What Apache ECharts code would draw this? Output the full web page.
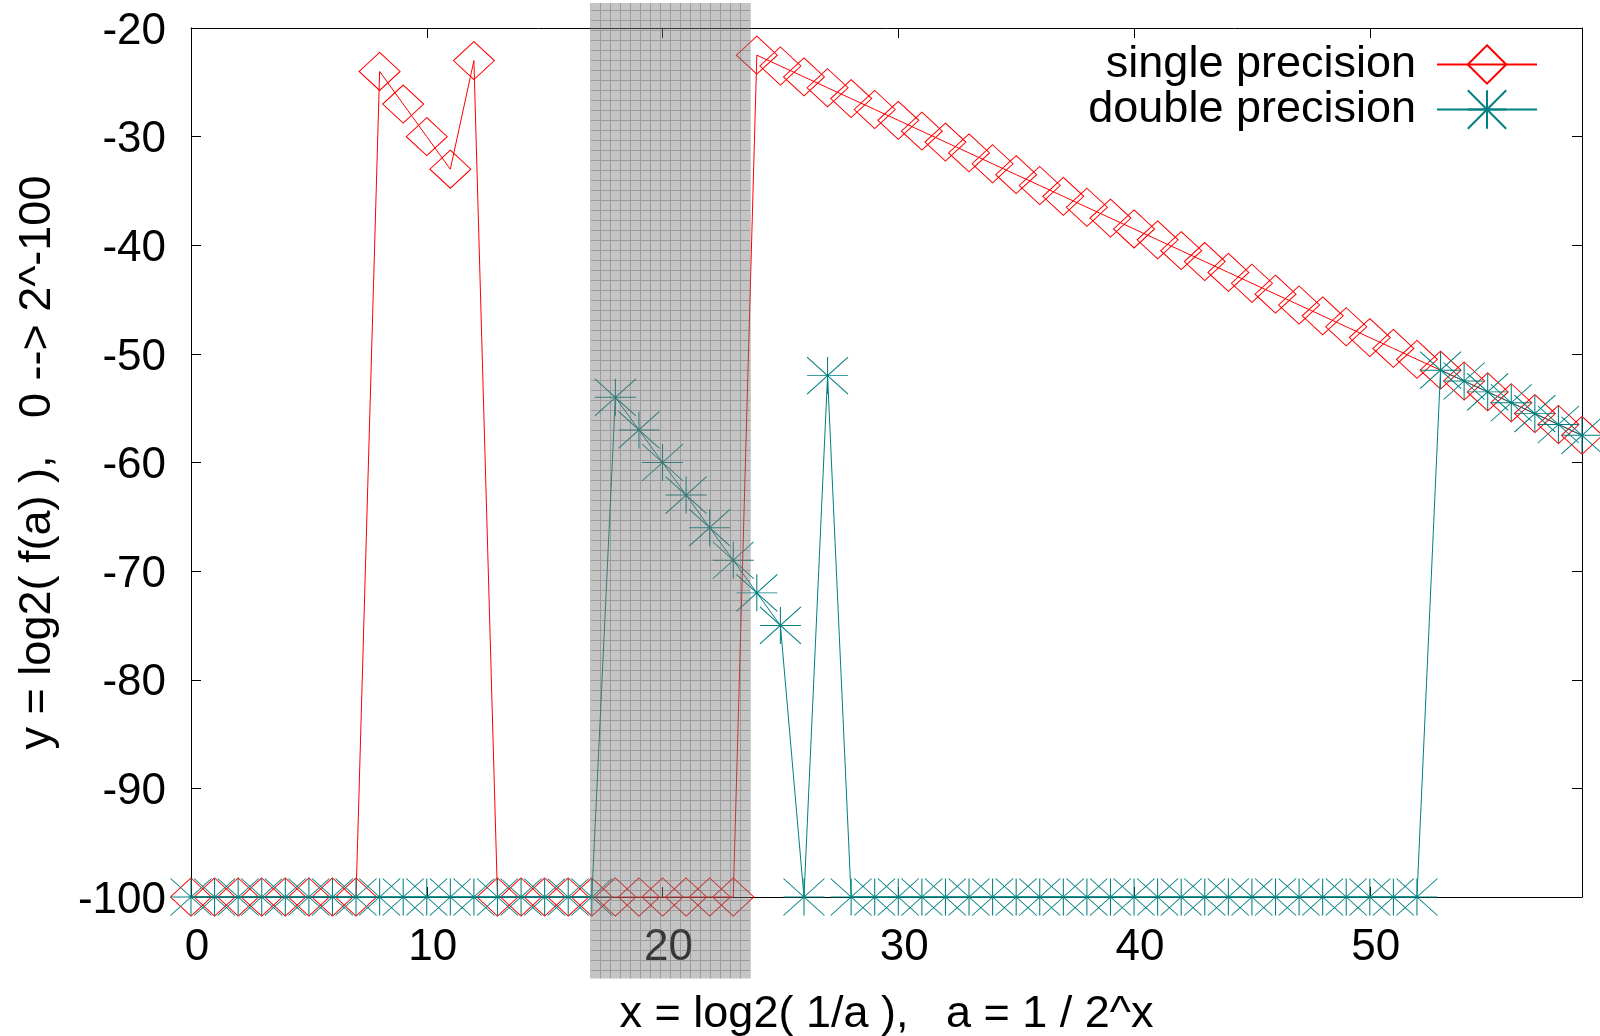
<!DOCTYPE html>
<html><head><meta charset="utf-8">
<script src="https://cdn.jsdelivr.net/npm/echarts@6/dist/echarts.min.js"></script>
<style>html,body{margin:0;padding:0;background:#fff}#c{width:1600px;height:1036px}</style>
</head><body><div id="c"></div>
<script>
const xValues = [0,1,2,3,4,5,6,7,8,9,10,11,12,13,14,15,16,17,18,19,20,21,22,23,24,25,26,27,28,29,30,31,32,33,34,35,36,37,38,39,40,41,42,43,44,45,46,47,48,49,50,51,52,53,54,55,56,57,58,59];
const singleValues = [-100,-100,-100,-100,-100,-100,-100,-100,
  -24,-27,-30,-33,-23,
  -100,-100,-100,-100,-100,-100,-100,-100,-100,-100,-100,
  -22.5,-23.5,-24.5,-25.5,-26.5,-27.5,-28.5,-29.5,-30.5,-31.5,
  -32.5,-33.5,-34.5,-35.5,-36.5,-37.5,-38.5,-39.5,-40.5,-41.5,
  -42.5,-43.5,-44.5,-45.5,-46.5,-47.5,-48.5,-49.5,-50.5,-51.5,
  -52.5,-53.5,-54.5,-55.5,-56.5,-57.5];
const doubleValues = [-100,-100,-100,-100,-100,-100,-100,-100,-100,-100,-100,-100,-100,-100,-100,-100,-100,-100,
  -54,-57,-60,-63,-66,-69,-72,-75,
  -100,
  -52,
  -100,-100,-100,-100,-100,-100,-100,-100,-100,-100,-100,-100,-100,-100,-100,-100,-100,-100,-100,-100,-100,-100,-100,-100,-100,
  -51.5,-52.5,-53.5,-54.5,-55.5,-56.5,-57.5];
const seriesNames = ['single precision', 'double precision'];
const xTitle = 'x = log2( 1/a ),   a = 1 / 2^x';
const yTitle = 'y = log2( f(a) ),   0 --> 2^-100';
const shadeX = [16.94, 23.73];
const shadeY = [-17.7, -107.5];

const FONT = 'Liberation Sans, Arial, sans-serif';
const chart = echarts.init(document.getElementById('c'), null, {renderer: 'canvas'});

const asterisk = 'path://M0,0L2,2M2,0L0,2M0,1L2,1M1,0L1,2';
function xAx(pos, show) {
  return {
    type: 'value', position: pos, min: 0, max: 59, interval: 10,
    axisLine: {show: true, onZero: false, lineStyle: {color: '#000', width: 1}},
    axisTick: {show: true, inside: true, length: 10, lineStyle: {color: '#000', width: 1}},
    axisLabel: {show: show, fontSize: 44, color: '#000', fontFamily: FONT, margin: 29,
      showMaxLabel: false, padding: [0, 0, 0, 12]},
    splitLine: {show: false},
    name: show ? xTitle : '', nameLocation: 'middle', nameGap: 95,
    nameTextStyle: {fontSize: 45, color: '#000', fontFamily: FONT}
  };
}
function yAx(pos, show) {
  return {
    type: 'value', position: pos, min: -100, max: -20, interval: 10,
    axisLine: {show: true, onZero: false, lineStyle: {color: '#000', width: 1}},
    axisTick: {show: true, inside: true, length: 10, lineStyle: {color: '#000', width: 1}},
    axisLabel: {show: show, fontSize: 44, color: '#000', fontFamily: FONT, margin: 25,
      formatter: v => '{t|' + v + '}',
      rich: {t: {fontSize: 44, color: '#000', fontFamily: FONT, padding: [7, 0, 0, 0]}}},
    splitLine: {show: false},
    name: show ? yTitle : '', nameLocation: 'middle', nameGap: 131, nameRotate: 90,
    nameTextStyle: {fontSize: 45, color: '#000', fontFamily: FONT}
  };
}

chart.setOption({
  animation: false,
  backgroundColor: '#fff',
  grid: {left: 191, top: 28, width: 1391, height: 869, containLabel: false, outerBoundsMode: 'none'},
  xAxis: [xAx('bottom', true), xAx('top', false)],
  yAxis: [yAx('left', true), yAx('right', false)],
  legend: {
    orient: 'vertical', align: 'right', right: 62, top: 42, padding: 0,
    itemWidth: 100, itemHeight: 48, itemGap: 0, selectedMode: false,
    textStyle: {fontSize: 45, color: '#000', fontFamily: FONT, padding: [0, 16, 0, 0]},
    data: seriesNames
  },
  series: [
    {
      type: 'line', name: seriesNames[0], clip: false, z: 2,
      data: xValues.map((x, i) => [x, singleValues[i]]),
      symbol: 'diamond', symbolSize: [41, 38],
      itemStyle: {color: 'rgba(0,0,0,0)', borderColor: '#ff0000', borderWidth: 1},
      lineStyle: {color: '#ff0000', width: 1},
      emphasis: {disabled: true}
    },
    {
      type: 'line', name: seriesNames[1], clip: false, z: 3,
      data: xValues.map((x, i) => [x, doubleValues[i]]),
      symbol: asterisk, symbolSize: [41, 37],
      itemStyle: {color: 'rgba(0,0,0,0)', borderColor: '#008080', borderWidth: 1},
      lineStyle: {color: '#008080', width: 1},
      emphasis: {disabled: true}
    }
  ]
});

// shaded overlay region (pattern)
const pc = document.createElement('canvas');
pc.width = 10; pc.height = 10;
const ctx = pc.getContext('2d');
for (let i = 0; i < 10; i++) for (let j = 0; j < 10; j++) {
  ctx.fillStyle = ((i + j) % 2) ? 'rgba(122,122,122,0.46)' : 'rgba(122,122,122,0.42)';
  ctx.fillRect(i, j, 1, 1);
}
ctx.fillStyle = 'rgba(100,100,100,0.42)';
ctx.fillRect(0, 0, 10, 1);
ctx.fillRect(0, 1, 1, 9);

const p1 = chart.convertToPixel({xAxisIndex: 0, yAxisIndex: 0}, [shadeX[0], shadeY[0]]);
const p2 = chart.convertToPixel({xAxisIndex: 0, yAxisIndex: 0}, [shadeX[1], shadeY[1]]);
chart.setOption({
  graphic: [{
    type: 'rect', silent: true, z: 100,
    shape: {x: p1[0], y: p1[1], width: p2[0] - p1[0], height: p2[1] - p1[1]},
    style: {fill: {image: pc, repeat: 'repeat'}}
  }]
});
</script></body></html>
